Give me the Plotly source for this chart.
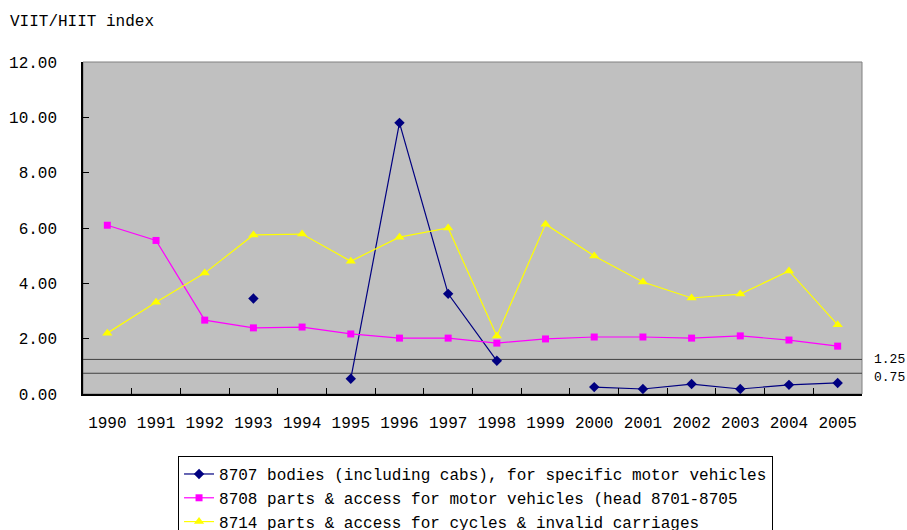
import plotly.graph_objects as go

years = ["1990", "1991", "1992", "1993", "1994", "1995", "1996", "1997",
         "1998", "1999", "2000", "2001", "2002", "2003", "2004", "2005"]

s8707 = [None, None, None, 3.45, None, 0.55, 9.80, 3.62,
         1.20, None, 0.25, 0.18, 0.36, 0.18, 0.33, 0.40]
s8708 = [6.10, 5.55, 2.67, 2.39, 2.42, 2.17, 2.02, 2.02,
         1.84, 1.99, 2.06, 2.06, 2.02, 2.10, 1.95, 1.73]
s8714 = [2.20, 3.32, 4.37, 5.75, 5.78, 4.80, 5.67, 6.00,
         2.10, 6.14, 4.99, 4.05, 3.47, 3.61, 4.45, 2.50]

names = ["8707 bodies (including cabs), for specific motor vehicles",
         "8708 parts & access for motor vehicles (head 8701-8705",
         "8714 parts & access for cycles & invalid carriages"]

thresholds = [1.25, 0.75]
threshold_labels = ["1.25", "0.75"]

FONT = "Liberation Mono, DejaVu Sans Mono, monospace"

fig = go.Figure()
fig.add_trace(go.Scatter(x=years, y=s8707, name=names[0], mode="lines+markers",
                         connectgaps=False,
                         line=dict(color="#000080", width=1.2),
                         marker=dict(symbol="diamond", size=8, color="#000080")))
fig.add_trace(go.Scatter(x=years, y=s8708, name=names[1], mode="lines+markers",
                         connectgaps=False,
                         line=dict(color="#FF00FF", width=1.2),
                         marker=dict(symbol="square", size=7, color="#FF00FF")))
fig.add_trace(go.Scatter(x=years, y=s8714, name=names[2], mode="lines+markers",
                         connectgaps=False,
                         line=dict(color="#FFFF00", width=1.2),
                         marker=dict(symbol="triangle-up", size=9, color="#FFFF00")))

shapes = [dict(type="rect", xref="paper", yref="paper", x0=0, x1=1, y0=0, y1=1,
               line=dict(color="#808080", width=1), layer="below")]
annotations = []
for v, lab in zip(thresholds, threshold_labels):
    shapes.append(dict(type="line", xref="paper", yref="y", x0=0, x1=1, y0=v, y1=v,
                       line=dict(color="#404040", width=1), layer="below"))
    annotations.append(dict(xref="paper", yref="y", x=1, y=v, xanchor="left",
                            yanchor="middle", yshift=0 if v > 1 else -4,
                            xshift=10, text=lab, showarrow=False,
                            font=dict(family=FONT, size=13, color="black")))

annotations.append(dict(xref="paper", yref="paper", x=-0.0963, y=1.12,
                        xanchor="left", yanchor="middle",
                        text="VIIT/HIIT index", showarrow=False,
                        font=dict(family=FONT, size=16, color="black")))

fig.update_layout(
    width=907, height=530,
    margin=dict(l=83, r=45, t=62, b=136, autoexpand=False),
    paper_bgcolor="white",
    plot_bgcolor="#C0C0C0",
    font=dict(family=FONT, size=16, color="black"),
    shapes=shapes,
    annotations=annotations,
    showlegend=True,
    legend=dict(x=0.122, y=-0.187, xanchor="left", yanchor="top",
                bgcolor="white", bordercolor="black", borderwidth=1,
                font=dict(family=FONT, size=16, color="black"),
                tracegroupgap=0, itemwidth=30),
)
fig.update_xaxes(type="category", range=[-0.5, 15.5], showline=True,
                 linecolor="black", linewidth=1.5, ticks="inside",
                 tickson="boundaries", ticklen=6, tickcolor="black",
                 showgrid=False, zeroline=False, ticklabelstandoff=13,
                 automargin=False, tickfont=dict(family=FONT, size=16))
fig.update_yaxes(range=[0, 12], dtick=2, tickformat=".2f", showline=True,
                 linecolor="black", linewidth=1.5, ticks="inside", ticklen=6,
                 tickcolor="black", showgrid=False, zeroline=False,
                 ticklabelstandoff=21, automargin=False,
                 tickfont=dict(family=FONT, size=16))

fig.write_html("out.html",
               config={"displayModeBar": False},
               post_script="document.body.style.margin='0';"
                           "document.body.style.overflow='hidden';")
